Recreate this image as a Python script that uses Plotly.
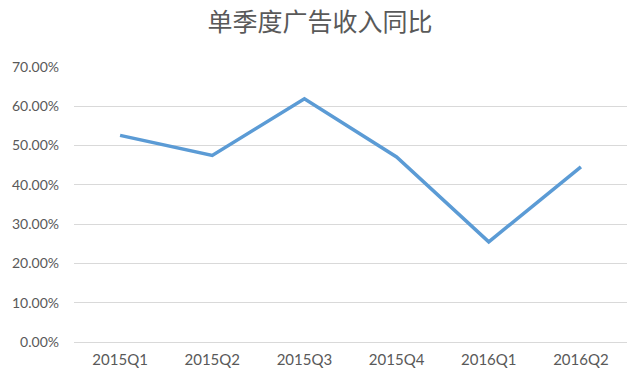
import plotly.graph_objects as go

quarters = ["2015Q1", "2015Q2", "2015Q3", "2015Q4", "2016Q1", "2016Q2"]
yoy_growth = [0.526, 0.475, 0.619, 0.471, 0.255, 0.446]
y_ticks = [0.0, 0.1, 0.2, 0.3, 0.4, 0.5, 0.6, 0.7]

fig = go.Figure()
fig.add_trace(go.Scatter(
    x=quarters, y=yoy_growth, mode="lines",
    line=dict(color="#5B9BD5", width=3.5),
    hoverinfo="x+y",
))

fig.update_layout(
    width=640, height=384,
    margin=dict(l=68, r=13, t=67, b=42),
    paper_bgcolor="white", plot_bgcolor="white",
    showlegend=False,
    title=dict(text="单季度广告收入同比", x=0.5, xanchor="center", y=0.942, yanchor="middle",
               font=dict(family="Noto Sans CJK SC", size=25, color="#595959")),
    font=dict(family="Lato, Open Sans, sans-serif", size=14, color="#595959"),
)
fig.update_xaxes(
    type="category", range=[-0.5, 5.5], showgrid=False, zeroline=False,
    showline=False, ticks="", ticklabelstandoff=7,
    tickfont=dict(size=15, color="#595959"),
)
fig.update_yaxes(
    range=[0, 0.7], tickvals=y_ticks, tickformat=".2%",
    showgrid=True, gridcolor="#D9D9D9", gridwidth=1.3,
    zeroline=True, zerolinecolor="#D9D9D9", zerolinewidth=1.3,
    showline=False, ticks="", ticklabelstandoff=14,
    tickfont=dict(size=14, color="#595959"),
)

fig.write_html("out.html", config={"displayModeBar": False},
               post_script="document.body.style.margin='0';")
